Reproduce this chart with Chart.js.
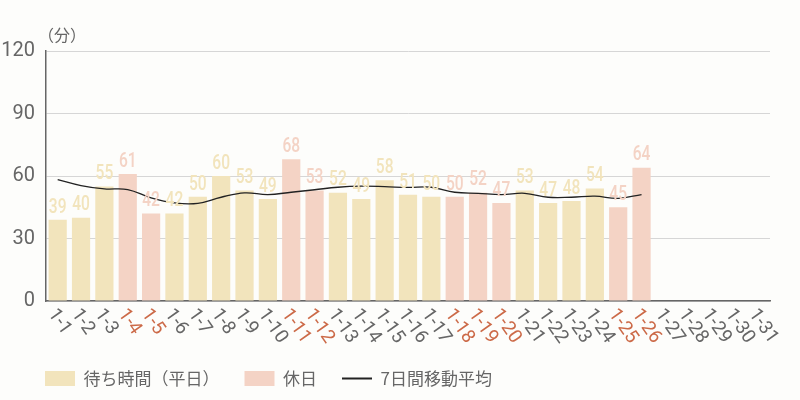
<!DOCTYPE html>
<html>
<head>
<meta charset="utf-8">
<script src="https://cdn.jsdelivr.net/npm/chart.js@4"></script>
<style>
  html, body { margin: 0; padding: 0; background: #fdfdfb; }
  #wrap { width: 800px; height: 400px; }
</style>
</head>
<body>
<div id="wrap"><canvas id="chart1"></canvas></div>
<script>
const ctx = document.getElementById("chart1").getContext("2d")

// categories (dates)
const days = ['1-1','1-2','1-3','1-4','1-5','1-6','1-7','1-8','1-9','1-10',
  '1-11','1-12','1-13','1-14','1-15','1-16','1-17','1-18','1-19','1-20',
  '1-21','1-22','1-23','1-24','1-25','1-26','1-27','1-28','1-29','1-30','1-31']

// waiting time on weekdays (min)
const weekday = [39,40,55,null,null,42,50,60,53,49,
  null,null,52,49,58,51,50,null,null,null,
  53,47,48,54,null,null,null,null,null,null,null]

// waiting time on holidays (min)
const holiday = [null,null,null,61,42,null,null,null,null,null,
  68,53,null,null,null,null,null,50,52,47,
  null,null,null,null,45,64,null,null,null,null,null]

// 7 day moving average
const movingAvg = [58.3,55.4,53.8,53.5,49.5,47.1,46.9,49.8,51.9,51.1,
  52.2,53.4,54.6,55.1,54.9,54.5,54.6,52.2,51.7,51.1,
  51.7,49.8,49.8,50.3,49.3,51.1,null,null,null,null,null]

const yTicks = [0,30,60,90,120]

const weekdayColor = "#f2e4bc"
const holidayColor = "#f4d3c5"
const grayText = "#666"
const holidayText = "#cc6a48"
const numFont = "Roboto, sans-serif"
const jpFont = "'Noto Sans CJK JP', sans-serif"

// value labels over the bars (squeezed to look condensed)
const valueLabels = {
  id: "valueLabels",
  afterDatasetsDraw(chart){
    const c = chart.ctx
    c.save()
    c.font = "500 21px " + numFont
    c.textAlign = "center"
    c.textBaseline = "bottom"
    for (let di of [0,1]) {
      const meta = chart.getDatasetMeta(di)
      const data = chart.data.datasets[di].data
      meta.data.forEach((bar, i) => {
        if (data[i] == null) return
        c.save()
        c.translate(bar.x, bar.y - 2)
        c.scale(0.74, 1)
        c.fillStyle = di == 0 ? weekdayColor : holidayColor
        c.fillText(String(data[i]), 0, 0)
        c.restore()
      })
    }
    c.restore()
  }
}

// rotated date labels + unit text
const dateLabels = {
  id: "dateLabels",
  afterLayout(chart){
    // push the legend to line up with the plot
    chart.legend.left += 20
  },
  afterDraw(chart){
    const c = chart.ctx
    const xs = chart.scales.x
    const area = chart.chartArea
    c.save()
    c.font = "19px " + numFont
    c.textAlign = "left"
    c.textBaseline = "middle"
    days.forEach((d, i) => {
      const x = xs.getPixelForValue(i)
      c.save()
      c.translate(x - 6, area.bottom + 10)
      c.rotate(55 * Math.PI / 180)
      c.fillStyle = holiday[i] != null ? holidayText : grayText
      c.fillText(d, 0, 0)
      c.restore()
    })
    // unit
    c.font = "16px " + jpFont
    c.fillStyle = grayText
    c.textAlign = "left"
    c.fillText("（分）", area.left - 8, area.top - 16)
    c.restore()
  }
}

const chart = new Chart(ctx, {
  type: "bar",
  data: {
    labels: days,
    datasets: [
      {
        label: "待ち時間（平日）",
        data: weekday,
        backgroundColor: weekdayColor,
        grouped: false,
        categoryPercentage: 1,
        barPercentage: 0.78,
        order: 2
      },
      {
        label: "休日",
        data: holiday,
        backgroundColor: holidayColor,
        grouped: false,
        categoryPercentage: 1,
        barPercentage: 0.78,
        order: 2
      },
      {
        type: "line",
        label: "7日間移動平均",
        data: movingAvg,
        borderColor: "#222",
        backgroundColor: "#222",
        borderWidth: 1.3,
        pointRadius: 0,
        tension: 0.4,
        pointStyle: "line",
        order: 0
      }
    ]
  },
  options: {
    responsive: true,
    maintainAspectRatio: false,
    animation: false,
    layout: {
      padding: { top: 51, right: 30, left: 0, bottom: 3 }
    },
    scales: {
      x: {
        grid: { display: false },
        border: { color: "#666", width: 1.5 },
        ticks: { display: false },
        afterFit(scale){ scale.height = 44 }
      },
      y: {
        min: 0,
        max: 120,
        afterBuildTicks(scale){ scale.ticks = yTicks.map(v => ({ value: v })) },
        grid: { color: "#d6d6d6", drawTicks: false },
        border: { color: "#666", width: 1.5 },
        ticks: {
          color: grayText,
          font: { family: numFont, size: 20 },
          padding: 11
        },
        afterFit(scale){ scale.width = 46 }
      }
    },
    plugins: {
      tooltip: { enabled: false },
      legend: {
        position: "bottom",
        align: "start",
        labels: {
          usePointStyle: true,
          pointStyleWidth: 30,
          boxHeight: 15,
          padding: 25,
          color: grayText,
          font: { family: jpFont, size: 17 },
          sort: (a, b) => a.datasetIndex - b.datasetIndex,
          generateLabels(chart){
            return chart.data.datasets.map((ds, i) => ({
              text: ds.label,
              datasetIndex: i,
              fillStyle: ds.backgroundColor,
              strokeStyle: ds.type == "line" ? ds.borderColor : ds.backgroundColor,
              lineWidth: ds.type == "line" ? 2 : 0,
              pointStyle: ds.type == "line" ? "line" : "rect",
              fontColor: grayText,
              hidden: false
            }))
          }
        }
      }
    }
  },
  plugins: [valueLabels, dateLabels]
})
</script>
</body>
</html>
